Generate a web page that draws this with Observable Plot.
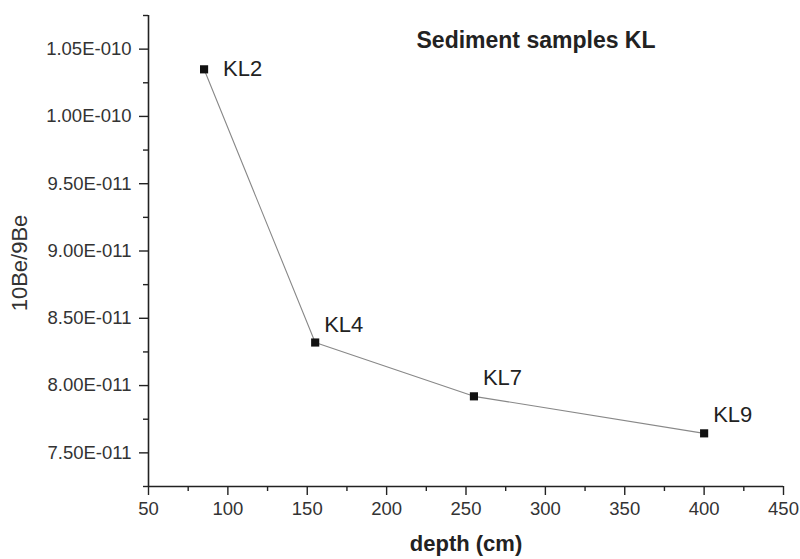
<!DOCTYPE html>
<html>
<head>
<meta charset="utf-8">
<script src="https://cdn.jsdelivr.net/npm/d3@7"></script>
<script src="https://cdn.jsdelivr.net/npm/@observablehq/plot@0.6"></script>
<style>
  html, body { margin: 0; padding: 0; background: #fff; }
  #chart svg { display: block; }
</style>
</head>
<body>
<div id="chart"></div>
<script>
// Data
const samples = ["KL2", "KL4", "KL7", "KL9"];
const depth = [85, 155, 255, 400];
const ratio = [1.035e-10, 8.32e-11, 7.92e-11, 7.645e-11];

// Ticks
const xTicks = [50, 100, 150, 200, 250, 300, 350, 400, 450];
const xMinorTicks = [75, 125, 175, 225, 275, 325, 375, 425];
const yTicks = [7.5e-11, 8.0e-11, 8.5e-11, 9.0e-11, 9.5e-11, 1.0e-10, 1.05e-10];
const yTickLabels = ["7.50E-011", "8.00E-011", "8.50E-011", "9.00E-011", "9.50E-011", "1.00E-010", "1.05E-010"];
const yMinorTicks = [7.25e-11, 7.75e-11, 8.25e-11, 8.75e-11, 9.25e-11, 9.75e-11, 1.025e-10, 1.075e-10];

const titleText = "Sediment samples KL";
const xLabel = "depth (cm)";
const yLabel = "10Be/9Be";

const data = samples.map((s, i) => ({sample: s, depth: depth[i], ratio: ratio[i]}));

const font = "'Liberation Sans', Arial, Helvetica, sans-serif";

const chart = Plot.plot({
  width: 800,
  height: 559,
  marginLeft: 148,
  marginRight: 17,
  marginTop: 15,
  marginBottom: 73,
  style: {fontFamily: font, color: "#222", background: "#fff"},
  x: {domain: [50, 450]},
  y: {domain: [7.25e-11, 1.075e-10]},
  marks: [
    // axis lines
    Plot.ruleX([50], {stroke: "#222", strokeWidth: 1.6}),
    Plot.ruleY([7.25e-11], {stroke: "#222", strokeWidth: 1.6}),
    // x axis
    Plot.axisX(xMinorTicks, {tickSize: 5, tickFormat: () => "", label: null, stroke: "#222", strokeWidth: 1.4}),
    Plot.axisX(xTicks, {tickSize: 9, tickPadding: 6, fontSize: 18.5, label: null, stroke: "#222", strokeWidth: 1.4, fill: "#333"}),
    // y axis
    Plot.axisY(yMinorTicks, {tickSize: 5, tickFormat: () => "", label: null, stroke: "#222", strokeWidth: 1.4}),
    Plot.axisY(yTicks, {
      tickSize: 9, tickPadding: 8, fontSize: 18.5, label: null, stroke: "#222", strokeWidth: 1.4, fill: "#333",
      tickFormat: d => yTickLabels[yTicks.indexOf(d)]
    }),
    // axis titles
    Plot.text([xLabel], {frameAnchor: "bottom", lineAnchor: "middle", textAnchor: "middle", dy: 57, text: d => d, fontSize: 22, fontWeight: "bold", fill: "#222"}),
    Plot.text([yLabel], {frameAnchor: "left", lineAnchor: "middle", textAnchor: "middle", dx: -129, dy: 12, rotate: -90, text: d => d, fontSize: 22, fill: "#333"}),
    // title
    Plot.text([titleText], {frameAnchor: "top-left", lineAnchor: "middle", textAnchor: "start", dx: 268, dy: 25, text: d => d, fontSize: 23, fontWeight: "bold", fill: "#222"}),
    // data line and markers
    Plot.line(data, {x: "depth", y: "ratio", stroke: "#888", strokeWidth: 1.1}),
    Plot.dot(data, {x: "depth", y: "ratio", symbol: "square", r: 4.6, fill: "#111", stroke: "none"}),
    // labels
    Plot.text(data.filter(d => d.sample === "KL2"), {x: "depth", y: "ratio", text: "sample", textAnchor: "start", dx: 19, dy: 0, fontSize: 22, fill: "#222"}),
    Plot.text(data.filter(d => d.sample !== "KL2"), {x: "depth", y: "ratio", text: "sample", textAnchor: "start", dx: 9, dy: -18, fontSize: 22, fill: "#222"})
  ]
});

document.getElementById("chart").appendChild(chart);
</script>
</body>
</html>
